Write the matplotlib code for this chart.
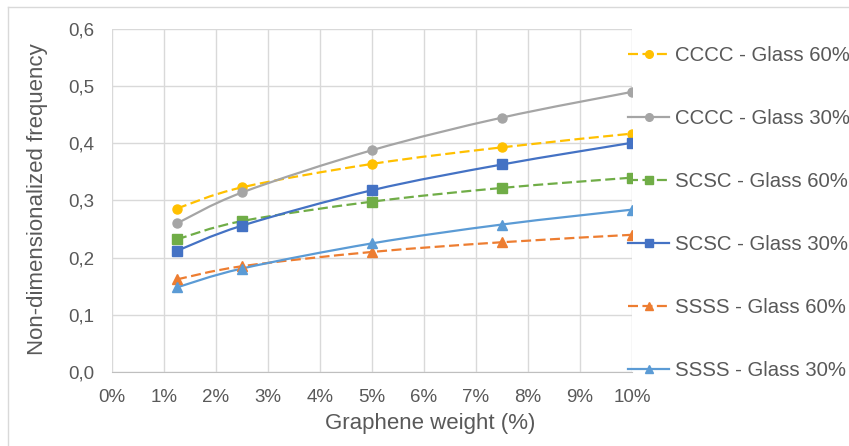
import matplotlib
matplotlib.use("Agg")
import matplotlib.pyplot as plt
from matplotlib.path import Path
from matplotlib.patches import PathPatch
from matplotlib.lines import Line2D
from matplotlib.ticker import FuncFormatter, MultipleLocator

plt.rcParams['font.family'] = ['Liberation Sans', 'DejaVu Sans']

graphene = [1.25, 2.5, 5.0, 7.5, 10.0]

cccc_60 = [0.286, 0.323, 0.364, 0.393, 0.417]
cccc_30 = [0.260, 0.314, 0.388, 0.445, 0.490]
scsc_60 = [0.232, 0.264, 0.298, 0.322, 0.340]
scsc_30 = [0.212, 0.256, 0.318, 0.363, 0.401]
ssss_60 = [0.162, 0.185, 0.210, 0.227, 0.240]
ssss_30 = [0.148, 0.181, 0.225, 0.258, 0.284]

labels = ["CCCC - Glass 60%", "CCCC - Glass 30%", "SCSC - Glass 60%",
          "SCSC - Glass 30%", "SSSS - Glass 60%", "SSSS - Glass 30%"]
series = [cccc_60, cccc_30, scsc_60, scsc_30, ssss_60, ssss_30]
colors = ["#FFC000", "#A5A5A5", "#70AD47", "#4472C4", "#ED7D31", "#5B9BD5"]
markers = ["o", "o", "s", "s", "^", "^"]
dashed = [True, False, True, False, True, False]

text_col = "#595959"
dash = (0, (4.5, 2.0))


def smooth_path(xs, ys):
    # excel-like smoothed line: cubic bezier segments through the points
    verts = [(xs[0], ys[0])]
    codes = [Path.MOVETO]
    n = len(xs)
    for i in range(n - 1):
        x0, y0 = (xs[i - 1], ys[i - 1]) if i > 0 else (xs[i], ys[i])
        x3, y3 = (xs[i + 2], ys[i + 2]) if i + 2 < n else (xs[i + 1], ys[i + 1])
        c1 = (xs[i] + (xs[i + 1] - x0) / 6, ys[i] + (ys[i + 1] - y0) / 6)
        c2 = (xs[i + 1] - (x3 - xs[i]) / 6, ys[i + 1] - (y3 - ys[i]) / 6)
        verts += [c1, c2, (xs[i + 1], ys[i + 1])]
        codes += [Path.CURVE4] * 3
    return Path(verts, codes)


fig = plt.figure(figsize=(8.49, 4.46), dpi=100)
ax = fig.add_axes([112 / 849, 1 - 372 / 446, 520 / 849, 343 / 446])

handles = []
for ys, lab, c, m, d in zip(series, labels, colors, markers, dashed):
    ls = dash if d else "-"
    patch = PathPatch(smooth_path(graphene, ys), facecolor="none", edgecolor=c,
                      linewidth=1.6, linestyle=ls, zorder=3)
    ax.add_patch(patch)
    ax.plot(graphene, ys, linestyle="none", marker=m, color=c,
            markersize=6.5 if m != "^" else 7, zorder=4)
    handles.append(Line2D([], [], color=c, linewidth=1.6, linestyle=ls,
                          marker=m, markersize=5.5))

ax.set_xlim(0, 10)
ax.set_ylim(0, 0.6)
ax.xaxis.set_major_locator(MultipleLocator(1))
ax.yaxis.set_major_locator(MultipleLocator(0.1))
ax.xaxis.set_major_formatter(FuncFormatter(lambda v, p: f"{v:.0f}%"))
ax.yaxis.set_major_formatter(FuncFormatter(lambda v, p: f"{v:.1f}".replace(".", ",")))
ax.grid(True, color="#D9D9D9", linewidth=1.0, zorder=0)
ax.set_axisbelow(True)
for s in ["top", "right", "left"]:
    ax.spines[s].set_visible(False)
ax.spines["bottom"].set_color("#BFBFBF")
ax.tick_params(length=0, labelsize=13.5, labelcolor=text_col)
ax.tick_params(axis="y", pad=13)
ax.tick_params(axis="x", pad=12)

fig.text(38 / 849, 1 - 199 / 446, "Non-dimensionalized frequency", fontsize=16,
         color=text_col, rotation=90, ha="center", va="center")
fig.text(430 / 849, 1 - 424 / 446, "Graphene weight (%)", fontsize=16,
         color=text_col, ha="center", va="center")

fig.legend(handles, labels, loc="upper left", bbox_to_anchor=(620 / 849, 1 - 38 / 446),
           frameon=False, fontsize=14.7, labelcolor=text_col, handlelength=2.0,
           handletextpad=0.3, labelspacing=2.15, borderaxespad=0)

# chart area border (top and left edges visible)
fig.add_artist(Line2D([8 / 849, 1], [1 - 7 / 446, 1 - 7 / 446], color="#D9D9D9", linewidth=1))
fig.add_artist(Line2D([8 / 849, 8 / 849], [0, 1 - 7 / 446], color="#D9D9D9", linewidth=1))

fig.savefig("out.png", dpi=100)
